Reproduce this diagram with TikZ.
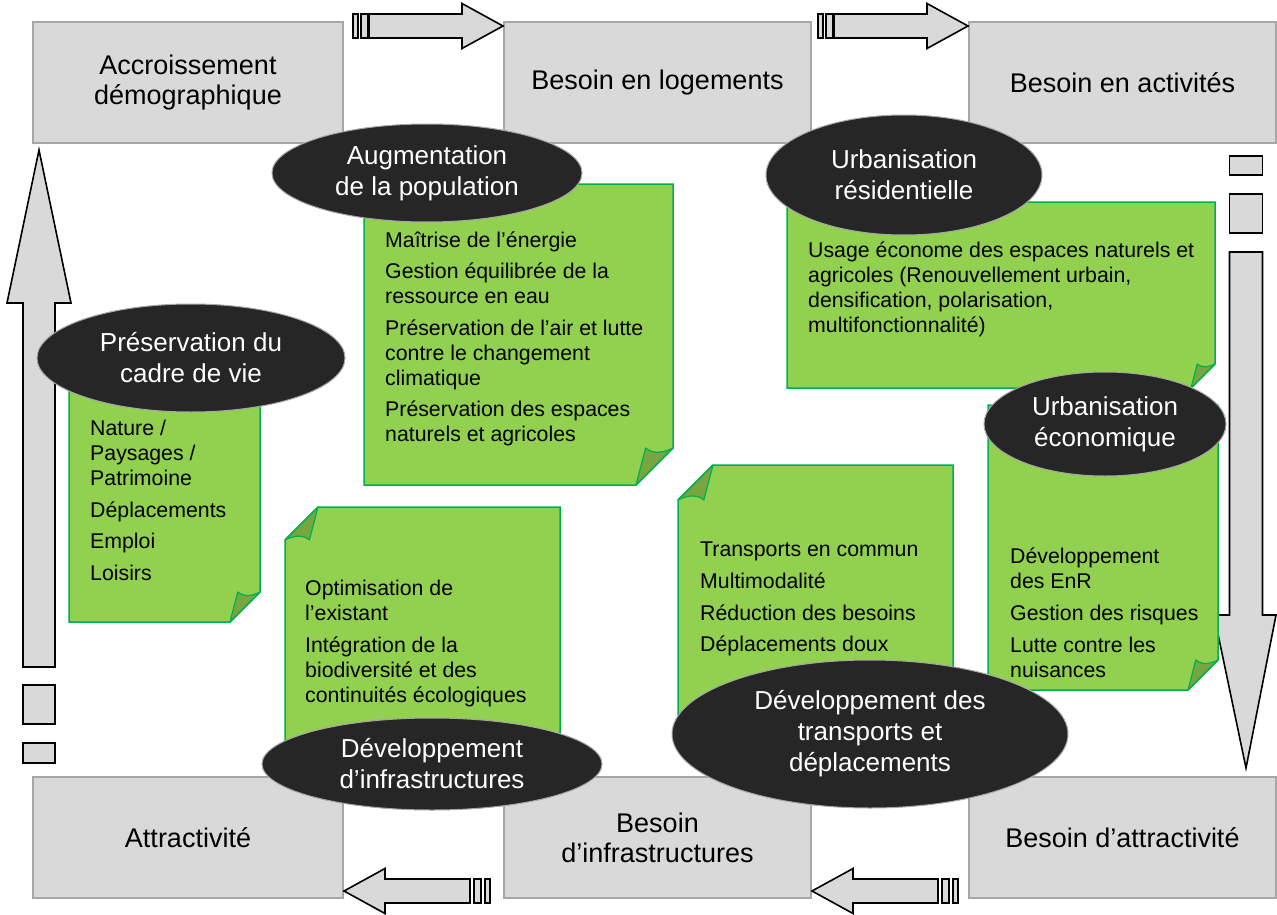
\documentclass[tikz,border=0pt]{standalone}
\usepackage{fontspec}
\setmainfont{Liberation Sans}
\usetikzlibrary{shapes.geometric}
\definecolor{boxfill}{HTML}{D9D9D9}
\definecolor{boxline}{HTML}{A6A6A6}
\definecolor{notefill}{HTML}{92D050}
\definecolor{noteline}{HTML}{00B050}
\definecolor{foldfill}{HTML}{77A53F}
\definecolor{ellfill}{HTML}{262626}
\newcommand\fnote{\fontsize{21.3}{25}\selectfont}
\newcommand\fell{\fontsize{26}{31}\selectfont}
\newcommand\fgbox{\fontsize{27}{30}\selectfont}
\newcommand\noteBR[5]{%
 \draw[notebody] (#1,#2) -- (#3,#2) -- (#3,{#4-#5}) -- ({#3-#5},#4) -- (#1,#4) -- cycle;
 \draw[notefold] (#3,{#4-#5}) -- ({#3-#5},#4) -- ({#3-0.74*#5},{#4-#5}) .. controls ({#3-0.5*#5},{#4-0.8*#5}) and ({#3-0.2*#5},{#4-0.9*#5}) .. (#3,{#4-#5}) -- cycle;
}
\newcommand\noteTL[5]{%
 \draw[notebody] ({#1+#5},#2) -- (#3,#2) -- (#3,#4) -- (#1,#4) -- (#1,{#2+#5}) -- cycle;
 \draw[notefold] ({#1+#5},#2) -- (#1,{#2+#5}) .. controls ({#1+0.2*#5},{#2+0.9*#5}) and ({#1+0.5*#5},{#2+0.8*#5}) .. ({#1+0.74*#5},{#2+#5}) -- cycle;
}
\begin{document}
\begin{tikzpicture}[x=1pt,y=-1pt,
  graybox/.style={draw=boxline, line width=1.5pt, fill=boxfill, anchor=north west, align=center, inner sep=0pt, outer sep=0pt, font=\fgbox},
  blockarrow/.style={draw=black, line width=1.6pt, fill=boxfill, line join=miter},
  notebody/.style={draw=noteline, line width=1.5pt, fill=notefill, line join=miter},
  notefold/.style={draw=noteline, line width=1.2pt, fill=foldfill, line join=round},
  notetxt/.style={anchor=north west, align=left, inner sep=0pt, font=\fnote},
  ell/.style={ellipse, draw=boxline, line width=1pt, fill=ellfill, text=white, align=center, inner sep=0pt, font=\fell}]
\useasboundingbox (0,0) rectangle (1277,915);
\fill[white] (0,0) rectangle (1277,915);

% boxes
\node[graybox, minimum width=310pt, minimum height=121pt] (b1) at (33,22) {Accroissement\\démographique};
\node[graybox, minimum width=307pt, minimum height=121pt] (b2) at (504,22) {Besoin en logements};
\node[graybox, minimum width=307pt, minimum height=121pt] (b3) at (969,22) {Besoin en activités};
\node[graybox, minimum width=310pt, minimum height=121pt] (b4) at (33,777) {Attractivité};
\node[graybox, minimum width=307pt, minimum height=121pt] (b5) at (504,777) {Besoin\\d’infrastructures};
\node[graybox, minimum width=307pt, minimum height=121pt] (b6) at (969,777) {Besoin d’attractivité};

% top arrows (pointing right), tip at origin
\foreach \tx in {503,968}{
 \begin{scope}[shift={(\tx,26)}]
  \draw[blockarrow] (-134,-12) -- (-41,-12) -- (-41,-22.5) -- (0,0) -- (-41,22.5) -- (-41,12) -- (-134,12) -- cycle;
  \draw[blockarrow] (-150,-12) rectangle (-145,12);
  \draw[blockarrow] (-142,-12) rectangle (-135,12);
 \end{scope}}
% bottom arrows (pointing left)
\foreach \tx in {344,812}{
 \begin{scope}[shift={(\tx,891)}]
  \draw[blockarrow] (126,-12) -- (41,-12) -- (41,-22.5) -- (0,0) -- (41,22.5) -- (41,12) -- (126,12) -- cycle;
  \draw[blockarrow] (130,-12) rectangle (137,12);
  \draw[blockarrow] (141,-12) rectangle (146,12);
 \end{scope}}
% right arrow (down)
\begin{scope}[shift={(1246,768)}]
 \draw[blockarrow] (-16.5,-516) -- (-16.5,-153) -- (-32,-153) -- (0,0) -- (30,-153) -- (16.5,-153) -- (16.5,-516) -- cycle;
 \draw[blockarrow] (-16.5,-574) rectangle (16.5,-535);
 \draw[blockarrow] (-16.5,-612) rectangle (16.5,-593);
\end{scope}
% left arrow (up)
\begin{scope}[shift={(39,150)}]
 \draw[blockarrow] (-16,517) -- (-16,153) -- (-32,153) -- (0,0) -- (32,153) -- (16,153) -- (16,517) -- cycle;
 \draw[blockarrow] (-16,535) rectangle (16,574);
 \draw[blockarrow] (-16,593) rectangle (16,613);
\end{scope}

% notes
\noteBR{364}{184}{673}{485}{37}
\noteBR{787}{202}{1215}{388}{24}
\noteBR{69}{370}{260}{622}{30}
\noteTL{285}{507}{560}{745}{33}
\noteTL{678}{465}{953}{720}{35}
\noteBR{988}{405}{1218}{690}{30}

\node[notetxt] (tA) at (385,227) {\rule{0pt}{20pt}Maîtrise de l’énergie\\[6.5pt]Gestion équilibrée de la\\ressource en eau\\[6.5pt]Préservation de l’air et lutte\\contre le changement\\climatique\\[6.5pt]Préservation des espaces\\naturels et agricoles};
\node[notetxt] (tB) at (808,237) {\rule{0pt}{20pt}Usage économe des espaces naturels et\\agricoles (Renouvellement urbain,\\densification, polarisation,\\multifonctionnalité)};
\node[notetxt] (tC) at (90,415) {\rule{0pt}{20pt}Nature /\\Paysages /\\Patrimoine\\[7pt]Déplacements\\[6.5pt]Emploi\\[6.5pt]Loisirs};
\node[notetxt] (tD) at (305,575) {\rule{0pt}{20pt}Optimisation de\\l’existant\\[7pt]Intégration de la\\biodiversité et des\\continuités écologiques};
\node[notetxt] (tE) at (700,536) {\rule{0pt}{20pt}Transports en commun\\[7pt]Multimodalité\\[7pt]Réduction des besoins\\[6pt]Déplacements doux};
\node[notetxt] (tF) at (1010,543) {\rule{0pt}{20pt}Développement\\des EnR\\[7pt]Gestion des risques\\[7pt]Lutte contre les\\nuisances};

% ellipses
\node[ell, minimum width=310pt, minimum height=98pt] (e1) at (427,173) {Augmentation\\de la population};
\node[ell, minimum width=276pt, minimum height=120pt] (e2) at (904,175) {Urbanisation\\résidentielle};
\node[ell, minimum width=308pt, minimum height=108pt] (e3) at (191,358) {Préservation du\\cadre de vie};
\node[ell, minimum width=242pt, minimum height=104pt] (e4) at (1105,424) {Urbanisation\\économique};
\node[ell, minimum width=340pt, minimum height=92pt] (e5) at (432,764) {Développement\\d’infrastructures};
\node[ell, minimum width=396pt, minimum height=148pt] (e6) at (870,734) {Développement des\\transports et\\déplacements};
\end{tikzpicture}
\end{document}
